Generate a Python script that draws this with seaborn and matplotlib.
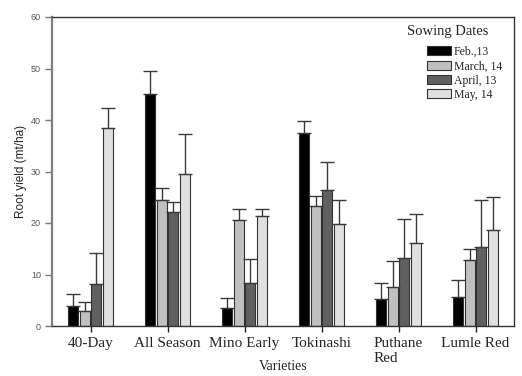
import numpy as np
import pandas as pd
import seaborn as sns
import matplotlib.pyplot as plt
from matplotlib.patches import Patch

varieties = ["40-Day", "All Season", "Mino Early", "Tokinashi", "Puthane\nRed", "Lumle Red"]
dates = ["Feb.,13", "March, 14", "April, 13", "May, 14"]
feb = [3.9, 45.1, 3.4, 37.4, 5.3, 5.6]
mar = [2.9, 24.5, 20.6, 23.3, 7.6, 12.8]
apr = [8.1, 22.1, 8.3, 26.5, 13.3, 15.3]
may = [38.4, 29.5, 21.4, 19.9, 16.1, 18.6]
feb_top = [6.2, 49.5, 5.5, 39.8, 8.4, 8.9]
mar_top = [4.6, 26.8, 22.8, 25.2, 12.6, 14.9]
apr_top = [14.2, 24.0, 13.0, 31.9, 20.8, 24.4]
may_top = [42.3, 37.2, 22.8, 24.4, 21.7, 25.1]
colors = ["#000000", "#c0c0c0", "#606060", "#e0e0e0"]

means = [feb, mar, apr, may]
tops = [feb_top, mar_top, apr_top, may_top]

rows = []
for d, vals in zip(dates, means):
    for v, y in zip(varieties, vals):
        rows.append({"Variety": v, "Date": d, "Yield": y})
df = pd.DataFrame(rows)

sns.set_style("white")
plt.rcParams["font.family"] = ["Liberation Serif", "DejaVu Serif"]

fig = plt.figure(figsize=(5.22, 3.76), dpi=100)
ax = fig.add_axes([52 / 522, 1 - 326 / 376, (514 - 52) / 522, (326 - 17) / 376])

sns.barplot(data=df, x="Variety", y="Yield", hue="Date", order=varieties,
            hue_order=dates, palette=colors, width=0.6, gap=0.1,
            errorbar=None, edgecolor="#333333", linewidth=0.8, legend=False, ax=ax)

for cont, vals, tp in zip(ax.containers, means, tops):
    xs = [p.get_x() + p.get_width() / 2 for p in cont.patches]
    up = np.array(tp) - np.array(vals)
    ax.errorbar(xs, vals, yerr=[np.zeros_like(up), up], fmt="none",
                ecolor="#3a3a3a", elinewidth=1.0, capsize=5, capthick=1.0, zorder=1)

ax.set_xlim(-0.5, 5.5)
ax.set_ylim(0, 60)
ax.set_yticks(range(0, 61, 10))
ax.tick_params(axis="y", direction="out", length=5, width=1, color="#777777",
               labelsize=6.5, labelcolor="#555555", pad=3, left=True)
for lab in ax.get_yticklabels():
    lab.set_fontfamily(["Liberation Sans", "DejaVu Sans"])
ax.tick_params(axis="x", direction="out", length=4, width=1, color="#222222",
               labelsize=11, pad=4, bottom=True)
for lab in ax.get_xticklabels():
    lab.set_multialignment("left")

for s in ["top", "right", "bottom"]:
    ax.spines[s].set_visible(True)
    ax.spines[s].set_color("#333333")
    ax.spines[s].set_linewidth(1.0)
ax.spines["left"].set_color("#808080")
ax.spines["left"].set_linewidth(1.6)

ax.set_ylabel("Root yield (mt/ha)", fontsize=8.5, fontfamily=["Liberation Sans", "DejaVu Sans"],
              labelpad=3)
ax.set_xlabel("Varieties", fontsize=10, va="center")
ax.xaxis.set_label_coords(0.5, -(366 - 326) / 309)

handles = [Patch(facecolor=c, edgecolor="#333333", linewidth=0.8) for c in colors]
leg = ax.legend(handles, dates, frameon=False,
                loc="upper left", bbox_to_anchor=((427 - 52) / 462, (326 - 46) / 309),
                prop={"family": "Liberation Serif", "size": 8.5},
                handlelength=2.0, handleheight=0.8, labelspacing=0.2,
                handletextpad=0.25, borderaxespad=0, borderpad=0)
ax.text((448 - 52) / 462, (326 - 32) / 309, "Sowing Dates", transform=ax.transAxes,
        ha="center", va="center", fontsize=10.5, fontfamily=["Liberation Serif", "DejaVu Serif"])

fig.savefig("out.png", dpi=100)
